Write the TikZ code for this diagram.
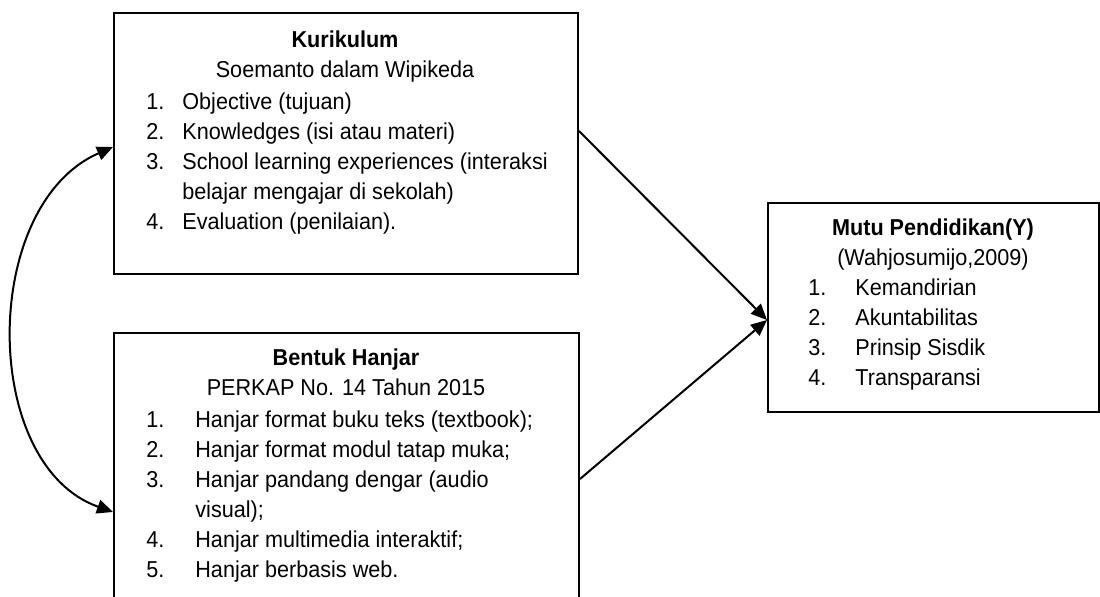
\documentclass[tikz,border=0pt]{standalone}
\usepackage{fontspec}
\setmainfont{Liberation Sans}[FakeStretch=0.94]
\usetikzlibrary{arrows.meta}
\newcommand{\itemlist}[2]{\begin{tabular}[t]{@{}p{#1}@{}l@{}}#2\end{tabular}}
\newcommand{\headtwo}[2]{\begin{tabular}[t]{@{}c@{}}\textbf{#1}\\#2\end{tabular}}

\begin{document}
\begin{tikzpicture}[x=0.5pt,y=-0.5pt,
    font=\fontsize{11.5}{15}\selectfont,
    box/.style={draw, line width=1pt, anchor=north west, inner sep=0pt},
    head/.style={inner sep=0pt, anchor=base},
    items/.style={inner sep=0pt, anchor=base west},
    arr/.style={line width=1pt, -{Triangle[length=8pt,width=7pt]}}]
    \useasboundingbox (0,0) rectangle (1100,597);

    \node[box, minimum width=232pt, minimum height=130.5pt] (kur) at (113,12) {}; %X1
    \node[box, minimum width=232.5pt, minimum height=134pt] (hanjar) at (113,332) {}; %X2
    \node[box, minimum width=165.5pt, minimum height=104.5pt] (mutu) at (767,202) {}; %Y

    \node[head] (kurhead) at (345,48) {\headtwo{Kurikulum}{Soemanto dalam Wipikeda}};
    \node[items] (kurlist) at (146,110) {\itemlist{18pt}{1. & Objective (tujuan)\\
        2. & Knowledges (isi atau materi)\\
        3. & School learning experiences (interaksi\\
           & belajar mengajar di sekolah)\\
        4. & Evaluation (penilaian).}};

    \node[head] (hanjarhead) at (346,366) {\headtwo{Bentuk Hanjar}{PERKAP No. 14 Tahun 2015}};
    \node[items] (hanjarlist) at (146,428) {\itemlist{24.5pt}{1. & Hanjar format buku teks (textbook);\\
        2. & Hanjar format modul tatap muka;\\
        3. & Hanjar pandang dengar (audio\\
           & visual);\\
        4. & Hanjar multimedia interaktif;\\
        5. & Hanjar berbasis web.}};

    \node[head] (mutuhead) at (933,236) {\headtwo{Mutu Pendidikan(Y)}{(Wahjosumijo,2009)}};
    \node[items] (mutulist) at (808,296) {\itemlist{23.5pt}{1. & Kemandirian\\
        2. & Akuntabilitas\\
        3. & Prinsip Sisdik\\
        4. & Transparansi}};

    \foreach \src/\dy in {kur/59.5,hanjar/73.5}
        \draw[arr] ([yshift=-\dy pt]\src.north east) -- ([yshift=-59pt]mutu.north west);
    \draw[arr, {Triangle[length=8pt,width=7pt]}-{Triangle[length=8pt,width=7pt]}]
        ([yshift=-67.5pt]kur.north west) .. controls (-20,205) and (-20,465) .. ([yshift=-90pt]hanjar.north west);
\end{tikzpicture}
\end{document}
